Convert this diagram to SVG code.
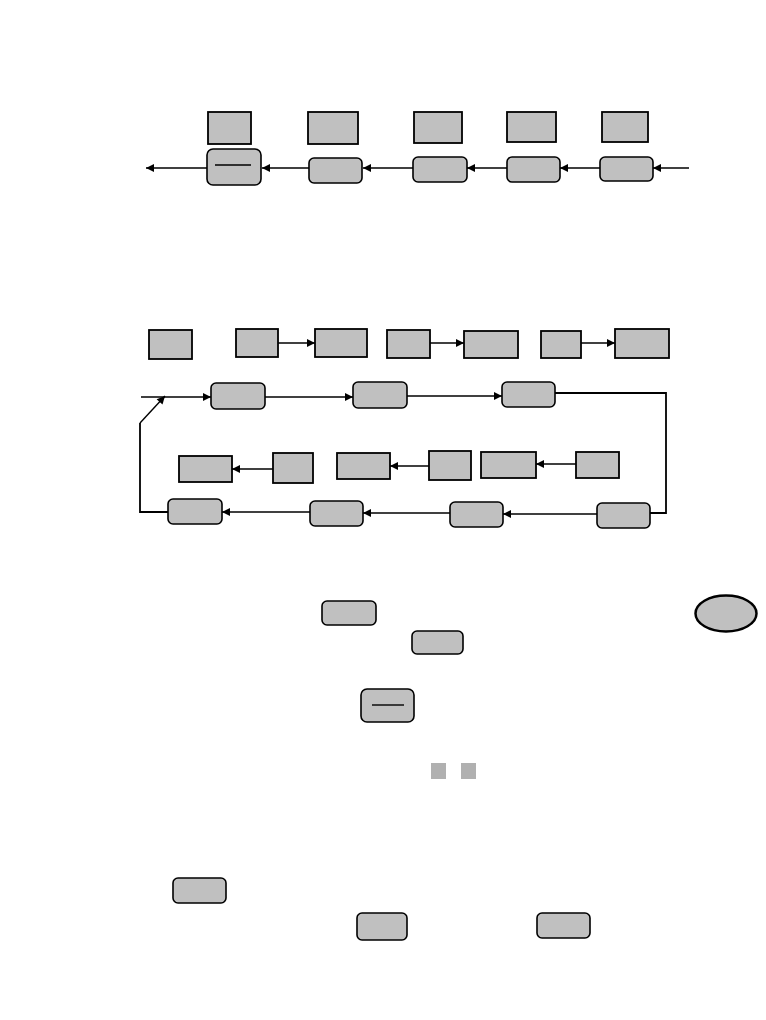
<svg xmlns="http://www.w3.org/2000/svg" width="766" height="1020" viewBox="0 0 766 1020">
<style>
.sq{fill:#c0c0c0;stroke:#000;stroke-width:1.8}
.rb{fill:#c0c0c0;stroke:#000;stroke-width:1.6}
.ln{fill:none;stroke:#000;stroke-width:1.4}
.lt{fill:none;stroke:#000;stroke-width:1.8}
.gs{fill:#b0b0b0;stroke:none}
</style>
<defs>
<marker id="ah" viewBox="0 0 10 10" refX="10" refY="5" markerWidth="9" markerHeight="8" markerUnits="userSpaceOnUse" orient="auto">
<path d="M0,0 L10,5 L0,10 z" fill="#000"/>
</marker>
</defs>
<rect width="766" height="1020" fill="#fff"/>
<g id="connectors">
<line class="ln" x1="207" y1="168" x2="146" y2="168" marker-end="url(#ah)"/>
<line class="ln" x1="309" y1="168" x2="262" y2="168" marker-end="url(#ah)"/>
<line class="ln" x1="413" y1="168" x2="363" y2="168" marker-end="url(#ah)"/>
<line class="ln" x1="507" y1="168" x2="467" y2="168" marker-end="url(#ah)"/>
<line class="ln" x1="600" y1="168" x2="560" y2="168" marker-end="url(#ah)"/>
<line class="ln" x1="689" y1="168" x2="653" y2="168" marker-end="url(#ah)"/>
<line class="ln" x1="278" y1="343" x2="315" y2="343" marker-end="url(#ah)"/>
<line class="ln" x1="430" y1="343" x2="464" y2="343" marker-end="url(#ah)"/>
<line class="ln" x1="581" y1="343" x2="615" y2="343" marker-end="url(#ah)"/>
<line class="ln" x1="141" y1="397" x2="211" y2="397" marker-end="url(#ah)"/>
<line class="ln" x1="265" y1="397" x2="353" y2="397" marker-end="url(#ah)"/>
<line class="ln" x1="407" y1="396" x2="502" y2="396" marker-end="url(#ah)"/>
<polyline class="lt" points="555,393 666,393 666,513 650,513"/>
<line class="ln" x1="597" y1="514" x2="503" y2="514" marker-end="url(#ah)"/>
<line class="ln" x1="450" y1="513" x2="363" y2="513" marker-end="url(#ah)"/>
<line class="ln" x1="310" y1="512" x2="222" y2="512" marker-end="url(#ah)"/>
<polyline class="lt" points="168,512 140,512 140,423"/>
<line class="ln" x1="140" y1="423" x2="165" y2="396" marker-end="url(#ah)"/>
<line class="ln" x1="273" y1="469" x2="232" y2="469" marker-end="url(#ah)"/>
<line class="ln" x1="429" y1="466" x2="390" y2="466" marker-end="url(#ah)"/>
<line class="ln" x1="576" y1="464" x2="536" y2="464" marker-end="url(#ah)"/>
</g>
<g id="n_top_sq1"><rect class="sq" x="208" y="112" width="43" height="32"/></g>
<g id="n_top_sq2"><rect class="sq" x="308" y="112" width="50" height="32"/></g>
<g id="n_top_sq3"><rect class="sq" x="414" y="112" width="48" height="31"/></g>
<g id="n_top_sq4"><rect class="sq" x="507" y="112" width="49" height="30"/></g>
<g id="n_top_sq5"><rect class="sq" x="602" y="112" width="46" height="30"/></g>
<g id="n_top_rb1"><rect class="rb" x="207" y="149" width="54" height="36" rx="6"/><line class="ln" x1="215" y1="165" x2="251" y2="165"/></g>
<g id="n_top_rb2"><rect class="rb" x="309" y="158" width="53" height="25" rx="5"/></g>
<g id="n_top_rb3"><rect class="rb" x="413" y="157" width="54" height="25" rx="5"/></g>
<g id="n_top_rb4"><rect class="rb" x="507" y="157" width="53" height="25" rx="5"/></g>
<g id="n_top_rb5"><rect class="rb" x="600" y="157" width="53" height="24" rx="5"/></g>
<g id="n_m_sq1"><rect class="sq" x="149" y="330" width="43" height="29"/></g>
<g id="n_m_sq2"><rect class="sq" x="236" y="329" width="42" height="28"/></g>
<g id="n_m_sq3"><rect class="sq" x="315" y="329" width="52" height="28"/></g>
<g id="n_m_sq4"><rect class="sq" x="387" y="330" width="43" height="28"/></g>
<g id="n_m_sq5"><rect class="sq" x="464" y="331" width="54" height="27"/></g>
<g id="n_m_sq6"><rect class="sq" x="541" y="331" width="40" height="27"/></g>
<g id="n_m_sq7"><rect class="sq" x="615" y="329" width="54" height="29"/></g>
<g id="n_loop_rb1"><rect class="rb" x="211" y="383" width="54" height="26" rx="5"/></g>
<g id="n_loop_rb2"><rect class="rb" x="353" y="382" width="54" height="26" rx="5"/></g>
<g id="n_loop_rb3"><rect class="rb" x="502" y="382" width="53" height="25" rx="5"/></g>
<g id="n_in_sq1"><rect class="sq" x="179" y="456" width="53" height="26"/></g>
<g id="n_in_sq2"><rect class="sq" x="273" y="453" width="40" height="30"/></g>
<g id="n_in_sq3"><rect class="sq" x="337" y="453" width="53" height="26"/></g>
<g id="n_in_sq4"><rect class="sq" x="429" y="451" width="42" height="29"/></g>
<g id="n_in_sq5"><rect class="sq" x="481" y="452" width="55" height="26"/></g>
<g id="n_in_sq6"><rect class="sq" x="576" y="452" width="43" height="26"/></g>
<g id="n_bot_rb1"><rect class="rb" x="168" y="499" width="54" height="25" rx="5"/></g>
<g id="n_bot_rb2"><rect class="rb" x="310" y="501" width="53" height="25" rx="5"/></g>
<g id="n_bot_rb3"><rect class="rb" x="450" y="502" width="53" height="25" rx="5"/></g>
<g id="n_bot_rb4"><rect class="rb" x="597" y="503" width="53" height="25" rx="5"/></g>
<g id="n_key1"><rect class="rb" x="322" y="601" width="54" height="24" rx="5"/></g>
<g id="n_key2"><rect class="rb" x="412" y="631" width="51" height="23" rx="5"/></g>
<g id="n_key3"><rect class="rb" x="361" y="689" width="53" height="33" rx="6"/><line class="ln" x1="372" y1="705" x2="404" y2="705"/></g>
<g id="n_oval"><ellipse cx="726" cy="613.5" rx="30.5" ry="18" fill="#c0c0c0" stroke="#000" stroke-width="2.5"/></g>
<g id="n_sq_small1"><rect class="gs" x="431" y="763" width="15" height="16"/></g>
<g id="n_sq_small2"><rect class="gs" x="461" y="763" width="15" height="16"/></g>
<g id="n_key4"><rect class="rb" x="173" y="878" width="53" height="25" rx="5"/></g>
<g id="n_key5"><rect class="rb" x="357" y="913" width="50" height="27" rx="5"/></g>
<g id="n_key6"><rect class="rb" x="537" y="913" width="53" height="25" rx="5"/></g>
</svg>
